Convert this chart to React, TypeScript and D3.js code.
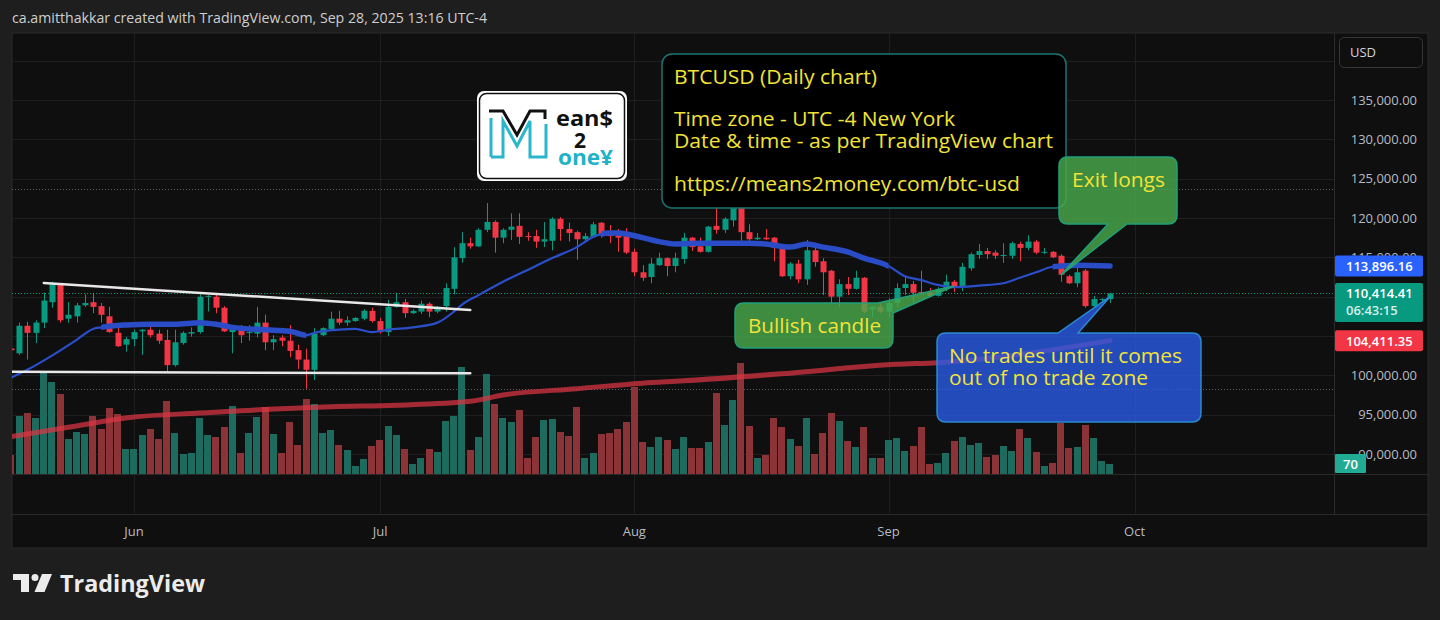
import React from 'react';
import * as d3 from 'd3';

// ---------- DATA ----------
const startDate = '2025-05-17';

const opens = [
  103400,102800,106300,105400,106700,109300,111500,107200,107500,108900,109300,108800,107500,105400,103900,
  104600,105600,105800,105300,104500,101300,104100,105300,105500,110000,
  110000,108600,105500,106000,105400,105300,106700,104200,104800,104400,
  103200,102000,100700,105100,105900,107200,106700,106900,107200,108200,
  106900,105500,108700,109300,107900,108100,109100,108100,108800,111000,
  114900,116800,116400,118500,119500,117500,118500,119000,117700,117700,
  117000,117100,119900,118600,118200,117300,117600,119400,118000,117800,117700,
  115700,113100,112500,114000,114900,113900,114800,117500,116400,115700,
  119000,118500,119700,122700,118200,117300,117500,117500,116200,112600,
  114200,112200,115900,114500,113300,110000,111600,111000,112400,108400,108700,
  108100,109200,111100,111600,110600,110500,110100,111000,111900,111200,
  113600,115300,115800,115600,115200,115200,116700,116200,117000,115600,
  115700,115200,112600,111700,113300,108800,109600,109700,
];
const highs = [
  103700,106700,106800,107000,110500,111900,111700,109300,109200,110300,110500,109200,108700,106100,104900,
  105800,105900,106700,105800,105800,105800,105600,106100,110300,110200,
  110300,108800,106100,106400,106400,108700,107700,105100,105100,106400,
  103900,103400,106000,106100,108100,108200,107500,107400,108400,108600,
  107300,109600,110500,109700,108400,109500,109300,108800,111700,116300,
  118200,117500,118700,121900,119700,118700,120600,120600,118200,118500,
  119500,120100,120100,119400,118400,118100,119500,119500,119100,118600,118700,
  116100,114000,114900,115600,115000,115600,118100,117600,117500,119000,
  122000,120100,122900,123700,119200,118100,118600,117600,116700,114400,
  114700,117200,116200,114900,113400,112200,112500,113300,112500,108800,109200,
  109800,111700,112500,112000,113300,111100,111200,112800,112100,114300,
  115600,116700,116200,115900,116800,117000,117000,117800,117200,116200,
  115800,115400,112800,113800,113500,110100,109800,110500,
];
const lows = [
  102700,102600,102000,104100,106000,108600,106700,106700,106700,108700,107900,106700,105400,103600,103000,
  103700,102600,104800,104000,100300,101100,103900,104900,105300,108100,
  107900,105500,102800,104100,104400,104800,103200,103200,103700,102300,
  100800,98300,99400,105000,105800,106400,106300,106800,107000,106700,
  105300,105000,108600,107300,107800,107800,107400,107900,108100,110300,
  114300,116100,116300,118200,115600,116800,117200,116700,117100,116200,
  116300,115900,117100,117000,114700,117000,117500,117500,116800,115700,115400,
  112600,112000,111700,113900,112600,113100,114200,115800,115600,115600,
  118000,118100,118900,117000,116800,117200,117200,114500,112500,112200,
  111700,111500,113800,110200,109200,108700,110200,110900,107900,107400,107900,
  107300,108700,110200,109200,110200,110000,110000,110700,110600,110700,
  113300,114800,114800,114800,114300,114800,114500,115900,115400,115400,
  114900,111900,111600,111200,108600,108700,109200,109200,
];
const closes = [
  103200,106300,105400,106700,109500,111700,107000,107700,108900,109200,108700,107700,105500,103700,104600,
  105500,105800,105100,104400,101300,104200,105400,105500,110000,110100,
  108600,105600,106000,105100,105500,106700,104200,104600,104400,103100,
  102000,100700,105300,106000,107200,106700,107000,107300,108200,106900,
  105500,108700,109300,107900,108200,109100,108100,108700,111100,115000,
  116800,116400,118500,119500,117500,118500,118900,117600,117600,117000,
  117300,119900,118600,118100,117300,117700,119200,117800,117700,117500,115600,
  113100,112400,114200,114900,113900,114900,117500,116300,115700,118900,
  118500,119900,122700,118200,117300,117500,117300,116200,112600,114200,
  112200,115900,114400,113100,110000,111600,111000,112400,108100,108700,108100,
  109200,111100,111600,110500,110500,110100,111000,111900,111200,113800,
  115400,115800,115400,115200,115300,116800,116200,117000,115600,115700,
  115000,112800,111700,113100,108800,109700,109700,110414.41,
];
const volumes = [
  133,406,427,392,707,644,560,245,294,280,406,315,462,420,175,
  175,273,315,245,511,287,140,147,392,273,
  259,329,476,147,287,399,469,280,147,364,
  203,525,490,287,308,203,168,56,105,196,
  238,336,273,175,70,112,175,154,371,406,
  749,168,259,700,490,392,364,448,112,259,
  378,385,294,266,469,112,147,280,287,315,364,
  609,224,189,259,238,175,259,182,182,224,
  567,343,518,777,336,112,133,392,329,245,
  196,392,140,287,427,371,231,189,329,112,112,
  238,252,161,196,329,70,77,147,231,259,
  203,217,119,133,196,161,315,252,154,56,
  77,357,182,189,343,252,91,70,
];

const blueMa: [string, number][] = [
  ['2025-05-17',99700],['2025-05-19',100700],['2025-05-22',102500],['2025-05-25',104500],['2025-05-27',105900],
  ['2025-05-28',106100],['2025-05-31',106400],['2025-06-03',106500],['2025-06-06',106500],['2025-06-09',106700],
  ['2025-06-11',106500],['2025-06-13',106100],['2025-06-17',105800],['2025-06-20',105600],['2025-06-22',105100],
  ['2025-06-23',105400],['2025-06-26',105800],['2025-06-28',105900],['2025-06-30',105500],['2025-07-02',105800],
  ['2025-07-05',106100],['2025-07-08',106700],['2025-07-10',108100],['2025-07-11',109000],['2025-07-13',110200],
  ['2025-07-16',111900],['2025-07-19',113400],['2025-07-22',114900],['2025-07-25',116300],['2025-07-27',117600],
  ['2025-07-29',118100],['2025-07-30',118100],['2025-08-02',117500],['2025-08-04',117000],['2025-08-06',116700],
  ['2025-08-09',116800],['2025-08-12',116800],['2025-08-15',116800],['2025-08-17',116700],['2025-08-20',116300],
  ['2025-08-22',116700],['2025-08-24',116300],['2025-08-27',115700],['2025-08-29',114900],['2025-09-01',113900],
  ['2025-09-03',112600],['2025-09-05',112100],['2025-09-07',111500],['2025-09-09',111200],['2025-09-12',111400],
  ['2025-09-15',111700],['2025-09-17',112400],['2025-09-19',113100],['2025-09-21',113800],['2025-09-24',114000],
  ['2025-09-28',113896.16],
];
const redMa: [string, number][] = [
  ['2025-05-17',92200],['2025-05-24',93400],['2025-06-01',94700],['2025-06-09',95200],['2025-06-14',95500],
  ['2025-06-25',96000],['2025-07-03',96200],['2025-07-12',96700],['2025-07-16',97500],['2025-07-25',98300],
  ['2025-08-02',99000],['2025-08-07',99300],['2025-08-19',100200],['2025-09-02',101400],['2025-09-07',101600],
  ['2025-09-28',104411.35],
];
const blueThick: [string, string][] = [
  ['2025-05-28','2025-06-22'], ['2025-07-28','2025-09-01'], ['2025-09-21','2025-09-29'],
];

const trendTop: [string, number][] = [['2025-05-21',111750],['2025-07-12',108300]];
const trendBottom: [string, number][] = [['2025-05-16',100450],['2025-07-12',100250]];

const priceTicks = [90000,95000,100000,105000,110000,115000,120000,125000,130000,135000,140000];
const monthTicks: [string, string][] = [['2025-06-01','Jun'],['2025-07-01','Jul'],['2025-08-01','Aug'],['2025-09-01','Sep'],['2025-10-01','Oct']];

const bullishTip: [string, number] = ['2025-09-09', 111350];
const exitTip: [string, number] = ['2025-09-22', 112750];
const noTradeTip: [string, number] = ['2025-09-28', 110000];

const lastPrice = 110414.41;
const blueLast = 113896.16;
const redLast = 104411.35;
const lastVol = 70;

// ---------- LAYOUT ----------
const W = 1440, H = 620;
const PL = 12, PR = 1334, PT = 33, PB = 474, FR = 1428, FB = 548, TA = 514;
const FONT = "'Open Sans', 'Noto Sans', sans-serif";
const UP = '#089981', DOWN = '#f23645';
const VUP = '#1d6b5e', VDOWN = '#8b3337';
const YELLOW = '#f2e336';

const parse = d3.utcParse('%Y-%m-%d');
const P = (s: string) => parse(s) as Date;

const x = d3.scaleUtc().domain([P('2025-06-01'), P('2025-09-28')]).range([134, 1110]);
const y = d3.scaleLinear().domain([90000, 135000]).range([454, 100]);
const yv = d3.scaleLinear().domain([0, 700]).range([PB, PB - 100]);

const start = P(startDate);
const dates = opens.map((_, i) => d3.utcDay.offset(start, i));

const fmt = d3.format(',.2f');

function calloutTop(x0: number, y0: number, x1: number, y1: number, r: number, a: number, b: number, tip: [number, number]) {
  return `M${x0 + r},${y0} L${a},${y0} L${tip[0]},${tip[1]} L${b},${y0} L${x1 - r},${y0} Q${x1},${y0} ${x1},${y0 + r} L${x1},${y1 - r} Q${x1},${y1} ${x1 - r},${y1} L${x0 + r},${y1} Q${x0},${y1} ${x0},${y1 - r} L${x0},${y0 + r} Q${x0},${y0} ${x0 + r},${y0} Z`;
}
function calloutBottom(x0: number, y0: number, x1: number, y1: number, r: number, a: number, b: number, tip: [number, number]) {
  return `M${x0 + r},${y0} L${x1 - r},${y0} Q${x1},${y0} ${x1},${y0 + r} L${x1},${y1 - r} Q${x1},${y1} ${x1 - r},${y1} L${b},${y1} L${tip[0]},${tip[1]} L${a},${y1} L${x0 + r},${y1} Q${x0},${y1} ${x0},${y1 - r} L${x0},${y0 + r} Q${x0},${y0} ${x0 + r},${y0} Z`;
}
function calloutTopRight(x0: number, y0: number, x1: number, y1: number, r: number, a: number, b: number, tip: [number, number]) {
  return `M${x0 + r},${y0} L${a},${y0} L${tip[0]},${tip[1]} L${x1},${b} L${x1},${y1 - r} Q${x1},${y1} ${x1 - r},${y1} L${x0 + r},${y1} Q${x0},${y1} ${x0},${y1 - r} L${x0},${y0 + r} Q${x0},${y0} ${x0 + r},${y0} Z`;
}

export default function App() {
  const lineGen = d3.line<[string, number]>().x(d => x(P(d[0]))).y(d => y(d[1])).curve(d3.curveMonotoneX);
  const bluePath = lineGen(blueMa) as string;
  const redPath = lineGen(redMa) as string;

  const maxHigh = d3.max(highs) as number;
  const minLow = d3.min(lows) as number;

  const tipXY = (t: [string, number]): [number, number] => [x(P(t[0])), y(t[1])];
  const bt = tipXY(bullishTip), et = tipXY(exitTip), nt = tipXY(noTradeTip);

  const blueY = y(blueLast), lastY = y(lastPrice), redY = y(redLast);
  const tagCenters = [blueY, lastY + 9, redY];
  const hidden = (t: number) => tagCenters.some((c, i) => Math.abs(y(t) - c) < (i === 1 ? 17 : 8));

  return (
    <svg width={W} height={H} style={{ position: 'absolute', left: 0, top: 0, display: 'block' }} fontFamily={FONT}>
      <defs>
        <clipPath id="pane"><rect x={PL} y={PT} width={PR - PL} height={PB - PT} /></clipPath>
        <clipPath id="thick">
          {blueThick.map((r, i) => (
            <rect key={i} x={x(P(r[0]))} y={PT} width={x(P(r[1])) - x(P(r[0]))} height={PB - PT} />
          ))}
        </clipPath>
      </defs>
      <rect x={0} y={0} width={W} height={H} fill="#1e1e1e" />
      <text x={12} y={23} fontSize={14} fill="#cfcfcf" textLength={475} lengthAdjust="spacingAndGlyphs">ca.amitthakkar created with TradingView.com, Sep 28, 2025 13:16 UTC-4</text>

      {/* chart frame */}
      <rect x={PL} y={PT} width={FR - PL} height={FB - PT} fill="#0f0f0f" stroke="#2a2a2a" strokeWidth={1} />

      {/* grid */}
      <g stroke="#1f1f1f" strokeWidth={1}>
        {priceTicks.map(t => (
          <line key={t} x1={PL} x2={PR} y1={Math.round(y(t)) + 0.5} y2={Math.round(y(t)) + 0.5} />
        ))}
        {monthTicks.map(([d]) => (
          <line key={d} x1={Math.round(x(P(d))) + 0.5} x2={Math.round(x(P(d))) + 0.5} y1={PT} y2={TA} />
        ))}
      </g>
      {/* separators */}
      <g stroke="#2a2a2a" strokeWidth={1}>
        <line x1={PL} x2={FR} y1={PB + 0.5} y2={PB + 0.5} />
        <line x1={PL} x2={FR} y1={TA + 0.5} y2={TA + 0.5} />
        <line x1={PR + 0.5} x2={PR + 0.5} y1={PT} y2={TA} />
      </g>

      <g clipPath="url(#pane)">
        {/* high / low / last price lines */}
        <line x1={PL} x2={PR} y1={Math.round(y(maxHigh)) + 0.5} y2={Math.round(y(maxHigh)) + 0.5} stroke="#5f626b" strokeDasharray="1 2" />
        <line x1={PL} x2={PR} y1={Math.round(y(minLow)) + 0.5} y2={Math.round(y(minLow)) + 0.5} stroke="#5f626b" strokeDasharray="1 2" />
        <line x1={PL} x2={PR} y1={Math.round(lastY) + 0.5} y2={Math.round(lastY) + 0.5} stroke={UP} strokeDasharray="1 2" />

        {/* volume */}
        {volumes.map((v, i) => {
          const cx = x(dates[i]);
          const top = yv(v);
          return <rect key={'v' + i} x={Math.round(cx - 3.6)} y={top} width={7} height={PB - top} fill={closes[i] >= opens[i] ? VUP : VDOWN} />;
        })}

        {/* red MA */}
        <path d={redPath} fill="none" stroke="#dd3444" strokeOpacity={0.72} strokeWidth={5} strokeLinecap="round" />

        {/* candles */}
        {opens.map((o, i) => {
          const c = closes[i];
          const cx = Math.round(x(dates[i]));
          const col = c >= o ? UP : DOWN;
          const yt = y(Math.max(o, c)), yb = y(Math.min(o, c));
          return (
            <g key={'c' + i}>
              <line x1={cx + 0.5} x2={cx + 0.5} y1={y(highs[i])} y2={y(lows[i])} stroke={col} strokeWidth={1} />
              <rect x={cx - 2.5} y={yt} width={6} height={Math.max(1, yb - yt)} fill={col} />
            </g>
          );
        })}

        {/* blue MA */}
        <path d={bluePath} fill="none" stroke="#2b4ecb" strokeWidth={2.2} />
        <g clipPath="url(#thick)">
          <path d={bluePath} fill="none" stroke="#2a4cc6" strokeWidth={5.5} strokeLinecap="round" />
        </g>

        {/* trend lines */}
        <line x1={x(P(trendTop[0][0]))} y1={y(trendTop[0][1])} x2={x(P(trendTop[1][0]))} y2={y(trendTop[1][1])} stroke="#e8e8e8" strokeWidth={2.5} strokeLinecap="round" />
        <line x1={x(P(trendBottom[0][0]))} y1={y(trendBottom[0][1])} x2={x(P(trendBottom[1][0]))} y2={y(trendBottom[1][1])} stroke="#e8e8e8" strokeWidth={2.5} strokeLinecap="round" />
      </g>

      {/* logo */}
      <g>
        <rect x={477} y={91} width={150} height={90} rx={7} fill="#ffffff" />
        <rect x={479.5} y={93.5} width={145} height={85} rx={7} fill="none" stroke="#111" strokeWidth={1.5} />
        <path d="M489,111 L503,111 L517,135 L530,111 L545,111 L545,119" fill="none" stroke="#111" strokeWidth={3} />
        <path d="M491,118 L491,157 M491,157 L503,157 L503,121 L517,146 L530,121 L530,157 L546,157 L546,124" fill="none" stroke="#2bb6cc" strokeWidth={3} />
        <text x={556} y={126} fontSize={21} fontWeight={700} fill="#111" textLength={57} lengthAdjust="spacingAndGlyphs">ean$</text>
        <text x={580} y={148} fontSize={21} fontWeight={700} fill="#111" textAnchor="middle">2</text>
        <text x={558} y={165} fontSize={21} fontWeight={700} fill="#1fb2c8" textLength={55} lengthAdjust="spacingAndGlyphs">one¥</text>
      </g>

      {/* info text box */}
      <g>
        <rect x={662} y={54} width={404} height={154} rx={10} fill="#000" stroke="#1b7474" strokeWidth={1.5} />
        <g fill={YELLOW} fontSize={20}>
          <text x={674} y={84} textLength={203} lengthAdjust="spacingAndGlyphs">BTCUSD (Daily chart)</text>
          <text x={674} y={126} textLength={281} lengthAdjust="spacingAndGlyphs">Time zone - UTC -4 New York</text>
          <text x={674} y={148} textLength={379} lengthAdjust="spacingAndGlyphs">Date &amp; time - as per TradingView chart</text>
          <text x={674} y={191} textLength={346} lengthAdjust="spacingAndGlyphs">https://means2money.com/btc-usd</text>
        </g>
      </g>

      {/* callouts */}
      <path d={calloutTopRight(735, 303, 893, 348, 9, 878, 313, bt)} fill="rgba(72,168,76,0.82)" stroke="#21a07a" strokeWidth={1.5} />
      <text x={748} y={333} fontSize={20} fill={YELLOW} textLength={133} lengthAdjust="spacingAndGlyphs">Bullish candle</text>

      <path d={calloutBottom(1059, 157, 1177, 224, 9, 1108, 1127, et)} fill="rgba(72,168,76,0.82)" stroke="#21a07a" strokeWidth={1.5} />
      <text x={1072} y={187} fontSize={20} fill={YELLOW} textLength={93} lengthAdjust="spacingAndGlyphs">Exit longs</text>

      <path d={calloutTop(937, 333, 1201, 422, 9, 1058, 1078, nt)} fill="rgba(41,92,235,0.78)" stroke="#2a8ad2" strokeWidth={1.5} />
      <text x={949} y={363} fontSize={20} fill={YELLOW} textLength={233} lengthAdjust="spacingAndGlyphs">No trades until it comes</text>
      <text x={949} y={385} fontSize={20} fill={YELLOW} textLength={199} lengthAdjust="spacingAndGlyphs">out of no trade zone</text>

      {/* price axis */}
      <g fontSize={13} fill="#b8bbc2">
        {priceTicks.filter(t => t <= 135000 && !hidden(t)).map(t => (
          <text key={t} x={1417} y={y(t) + 4.5} textAnchor="end">{fmt(t)}</text>
        ))}
      </g>
      <rect x={1339.5} y={37.5} width={83} height={30} rx={5} fill="#0f0f0f" stroke="#363636" />
      <text x={1350} y={57} fontSize={13} fill="#d1d4dc">USD</text>

      {/* price tags */}
      <rect x={1335} y={blueY - 10.5} width={88} height={21} rx={2} fill="#2962ff" />
      <text x={1346} y={blueY + 5} fontSize={13} fontWeight={600} fill="#fff">{fmt(blueLast)}</text>
      <rect x={1335} y={lastY - 10.5} width={88} height={39} rx={2} fill={UP} />
      <text x={1346} y={lastY + 5} fontSize={13} fontWeight={600} fill="#fff">{fmt(lastPrice)}</text>
      <text x={1346} y={lastY + 22} fontSize={13} fontWeight={600} fill="#d4efe9">06:43:15</text>
      <rect x={1335} y={redY - 10.5} width={88} height={21} rx={2} fill={DOWN} />
      <text x={1346} y={redY + 5} fontSize={13} fontWeight={600} fill="#fff">{fmt(redLast)}</text>
      <rect x={1335} y={yv(lastVol) - 10} width={31} height={PB - yv(lastVol) + 9} rx={1} fill="#22ab94" />
      <text x={1350.5} y={yv(lastVol) + 5} fontSize={13} fontWeight={600} fill="#fff" textAnchor="middle">{lastVol}</text>

      {/* time axis */}
      <g fontSize={13} fill="#b8bbc2" textAnchor="middle">
        {monthTicks.map(([d, l]) => (
          <text key={d} x={x(P(d))} y={536}>{l}</text>
        ))}
      </g>

      {/* TradingView logo */}
      <g fill="#ececec">
        <path d="M13,574 L29,574 L29,592 L21,592 L21,580 L13,580 Z" />
        <circle cx={35} cy={577.5} r={3.5} />
        <path d="M42,574 L52,574 L44.5,592 L34.5,592 Z" />
        <text x={60} y={592} fontSize={23} fontWeight={700} textLength={145} lengthAdjust="spacingAndGlyphs">TradingView</text>
      </g>
    </svg>
  );
}
